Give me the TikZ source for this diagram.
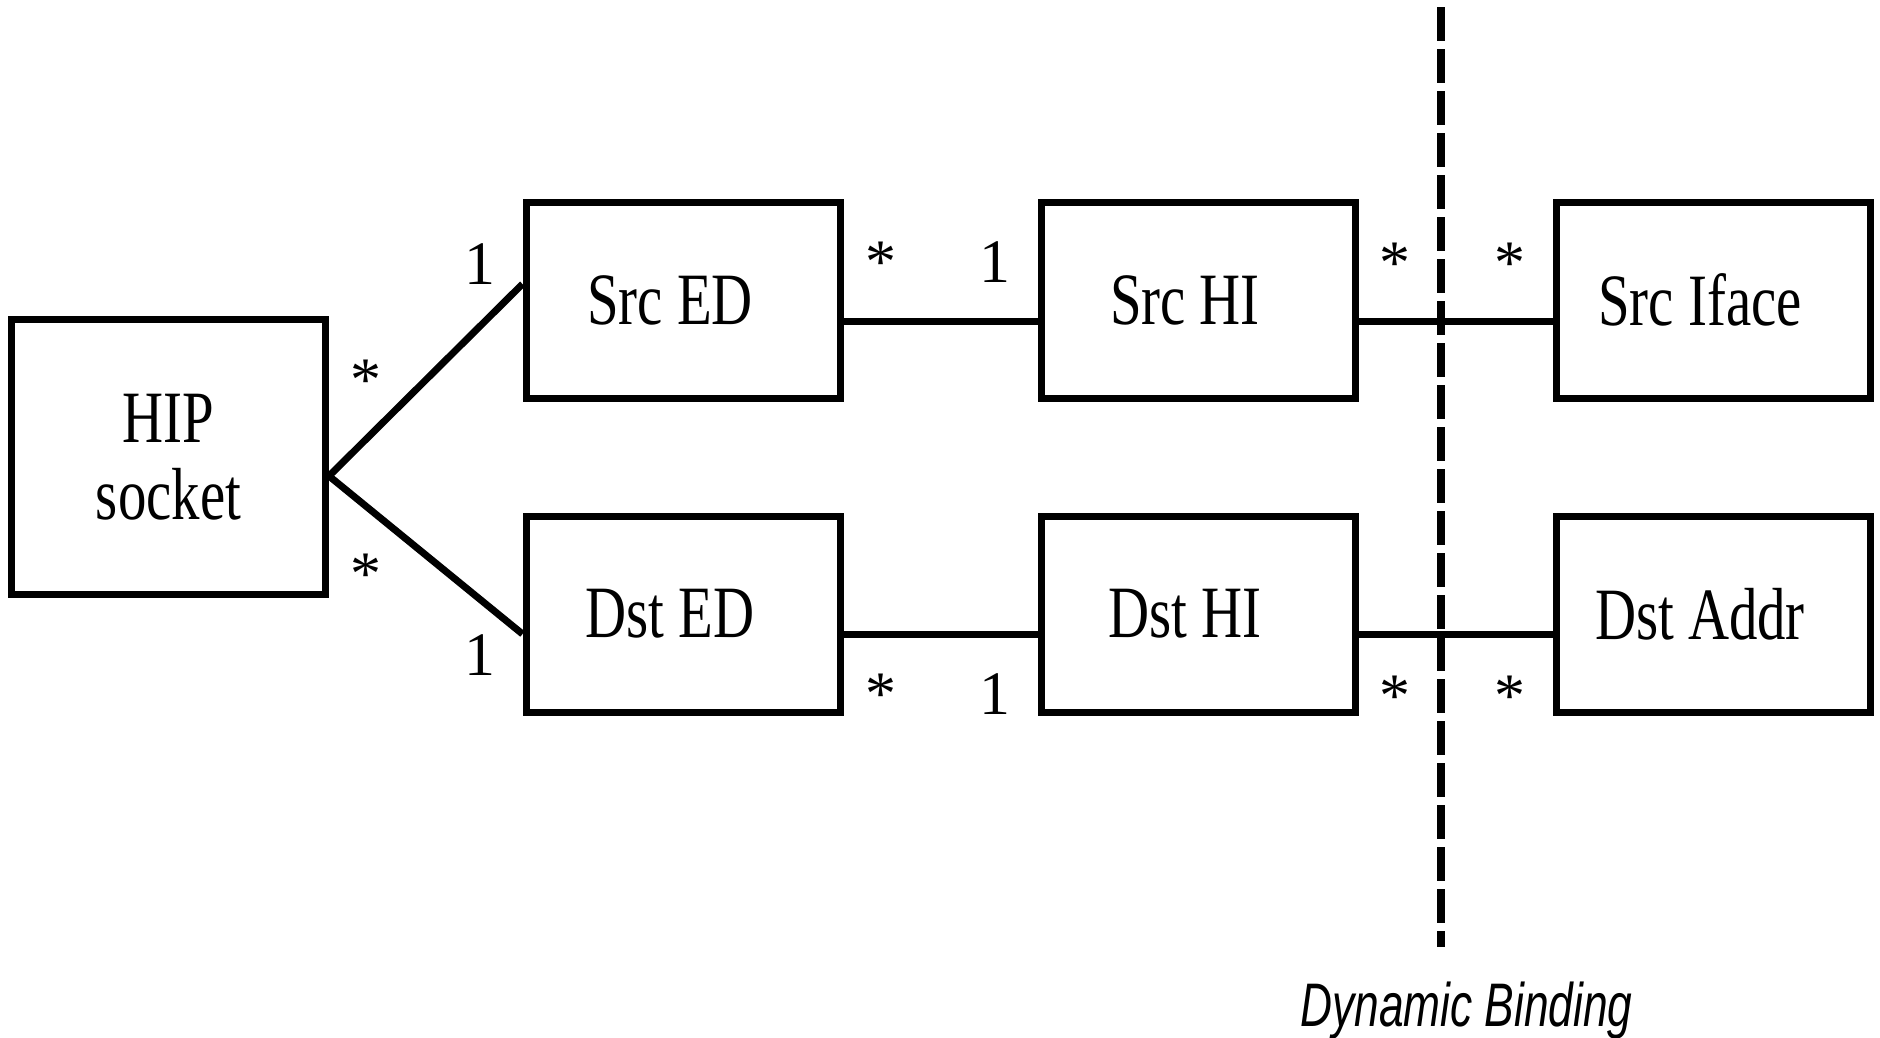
\documentclass[tikz,border=0pt]{standalone}
\usepackage{fontspec}
\setmainfont{Liberation Serif}
\newfontfamily\boxfont[FakeStretch=0.77]{Liberation Serif}
\newfontfamily\bindfont[FakeStretch=0.72]{Liberation Sans}
\usetikzlibrary{positioning}

\begin{document}
\begin{tikzpicture}[x=0.1mm,y=-0.1mm,node distance=51.5mm,
  box/.style={draw,line width=0.7mm,minimum width=31.4mm,minimum height=19.6mm,inner sep=0pt,font=\boxfont\fontsize{21}{22}\selectfont},
  rowbox/.style={box,execute at begin node={\hspace*{-2.6mm}}},
  conn/.style={line width=0.7mm,line join=round},
  mult/.style={anchor=base,inner sep=0pt,font=\fontsize{17.6}{20}\selectfont}]
  \useasboundingbox (0,0) rectangle (1880,1037);
  \node[box,minimum height=27.5mm,align=center] (hip) at (168.5,457) {HIP\\socket};
  \node[rowbox] (srced) at (683,300) {Src ED};
  \node[rowbox] (srchi) [right of=srced] {Src HI};
  \node[rowbox] (srciface) [right of=srchi] {Src Iface};
  \node[rowbox] (dsted) [node distance=31.4mm,below of=srced] {Dst ED};
  \node[rowbox] (dsthi) [right of=dsted] {Dst HI};
  \node[rowbox] (dstaddr) [right of=dsthi] {Dst Addr};
  \draw[conn] ([yshift=1.6mm]srced.west) -- ([yshift=-1.9mm]hip.east) -- ([yshift=-2mm]dsted.west);
  \draw[conn] ([yshift=-2.1mm]srced.east) -- ([yshift=-2.1mm]srchi.west);
  \draw[conn] ([yshift=-2.1mm]srchi.east) -- ([yshift=-2.1mm]srciface.west);
  \draw[conn] ([yshift=-2mm]dsted.east) -- ([yshift=-2mm]dsthi.west);
  \draw[conn] ([yshift=-2mm]dsthi.east) -- ([yshift=-2mm]dstaddr.west);
  % multiplicities
  \node[mult] (m1) at (479.5,284) {1};
  \node[mult] (m2) at (366,400) {*};
  \node[mult] (m3) at (366,594) {*};
  \node[mult] (m4) at (479.5,675) {1};
  \node[mult] (m5) at (881,282) {*};
  \node[mult] (m6) at (994.5,282) {1};
  \node[mult] (m7) at (881,714) {*};
  \node[mult] (m8) at (994.5,714) {1};
  \node[mult] (m9) at (1395,283) {*};
  \node[mult] (m10) at (1510,283) {*};
  \node[mult] (m11) at (1395,716) {*};
  \node[mult] (m12) at (1510,716) {*};
  % binding line
  \coordinate (dtop) at (1441,7);
  \coordinate (dbot) at (1441,947);
  \draw[line width=0.8mm,dash pattern=on 3.4mm off 0.8mm] (dtop) -- (dbot);
  \node[anchor=base,inner sep=0pt,font=\bindfont\itshape\fontsize{17.5}{20}\selectfont] (bind) at (1466.5,1026) {Dynamic Binding};
\end{tikzpicture}
\end{document}
